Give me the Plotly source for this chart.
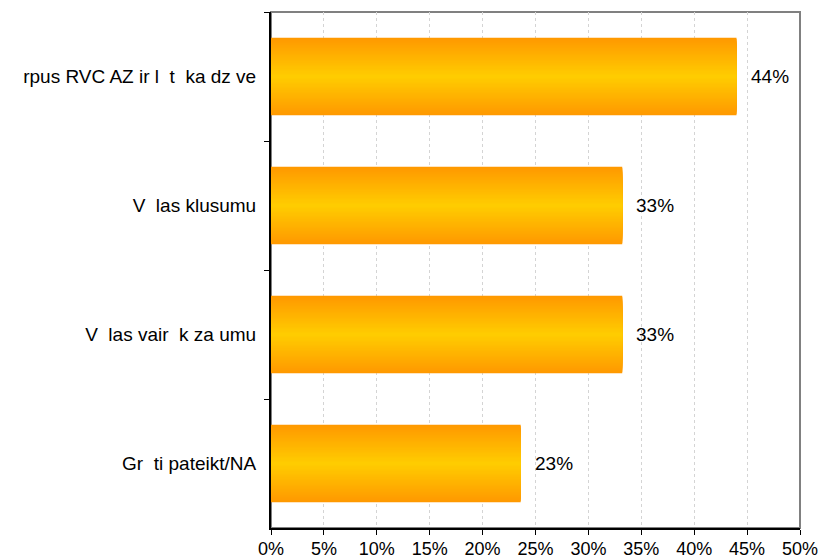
import plotly.graph_objects as go

# data
categories = ["rpus RVC AZ ir l\u00a0\u00a0t\u00a0\u00a0ka dz ve",
              "V\u00a0\u00a0las klusumu",
              "V\u00a0\u00a0las vair\u00a0\u00a0k za umu",
              "Gr\u00a0\u00a0ti pateikt/NA"]
values = [44.0, 33.2, 33.2, 23.6]
value_labels = ["44%", "33%", "33%", "23%"]
x_ticks = [0, 5, 10, 15, 20, 25, 30, 35, 40, 45, 50]


def mix(c1, c2, t):
    return "rgb(%d,%d,%d)" % tuple(round(a + (b - a) * t) for a, b in zip(c1, c2))


orange = (255, 153, 0)
yellow = (255, 204, 0)

fig = go.Figure()

# fake a vertical gradient: stack narrower bars on top of each other
n_layers = 30
bar_width = 0.6
for k in range(n_layers):
    t = k / (n_layers - 1)
    fig.add_trace(go.Bar(
        x=values, y=categories, orientation="h",
        width=bar_width * (1 - k / n_layers),
        marker=dict(color=mix(orange, yellow, t), line=dict(width=0)),
        showlegend=False, hoverinfo="skip",
    ))

for cat, val, lab in zip(categories, values, value_labels):
    fig.add_annotation(x=val, y=cat, text=lab, showarrow=False,
                       xanchor="left", xshift=12,
                       font=dict(size=19, color="black"))

# grey frame on top/right of the plot area
fig.add_shape(type="rect", xref="paper", yref="paper", x0=0, x1=1, y0=0, y1=1,
              line=dict(color="#808080", width=2), layer="below")

fig.update_layout(
    width=822, height=560,
    margin=dict(l=271, r=22, t=12, b=32),
    barmode="overlay",
    plot_bgcolor="white", paper_bgcolor="white",
    font=dict(family="Liberation Sans, Arial, sans-serif", size=19, color="black"),
    xaxis=dict(range=[0, 50], tickvals=x_ticks,
               ticktext=["%d%%" % v for v in x_ticks],
               tickfont=dict(size=18), ticklabelstandoff=-2,
               showgrid=True, gridcolor="#d4d4d4", griddash="dot", gridwidth=1,
               showline=True, linecolor="black", linewidth=2,
               ticks="outside", ticklen=5, tickcolor="black",
               zeroline=False, fixedrange=True, automargin=False),
    yaxis=dict(categoryorder="array", categoryarray=categories,
               autorange="reversed", tickson="boundaries",
               showline=True, linecolor="black", linewidth=2,
               ticks="outside", ticklen=5, tickcolor="black",
               ticklabelstandoff=9,
               showgrid=False, zeroline=False, fixedrange=True,
               automargin=False),
)

# page body has an 8px default margin; drop it so the figure sits at 0,0
fig.write_html("out.html", config={"displayModeBar": False},
               post_script="document.body.style.margin='0';")
